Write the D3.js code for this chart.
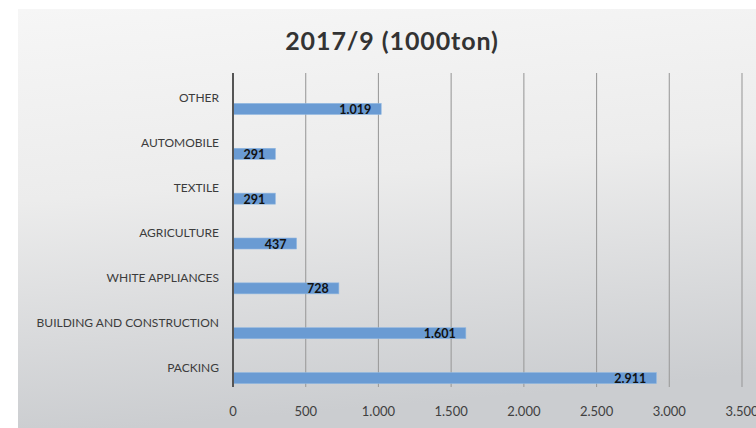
<!DOCTYPE html>
<html><head><meta charset="utf-8">
<script src="https://cdn.jsdelivr.net/npm/d3@7"></script>
<style>html,body{margin:0;padding:0;background:#fff;}svg{display:block;}</style>
</head><body>
<svg id="chart" width="756" height="428"></svg>
<script>
const categories = ["OTHER","AUTOMOBILE","TEXTILE","AGRICULTURE","WHITE APPLIANCES","BUILDING AND CONSTRUCTION","PACKING"];
const values = [1019, 291, 291, 437, 728, 1601, 2911];
const valueLabels = ["1.019","291","291","437","728","1.601","2.911"];
const tickValues = [0,500,1000,1500,2000,2500,3000,3500];
const tickLabels = ["0","500","1.000","1.500","2.000","2.500","3.000","3.500"];
const title = "2017/9 (1000ton)";

const svg = d3.select("#chart");
const defs = svg.append("defs");
const grad = defs.append("linearGradient").attr("id","bg").attr("x1",0).attr("y1",0).attr("x2",0.15).attr("y2",1);
grad.append("stop").attr("offset","0%").attr("stop-color","#f6f6f6");
grad.append("stop").attr("offset","45%").attr("stop-color","#ececec");
grad.append("stop").attr("offset","100%").attr("stop-color","#cbcdd0");
svg.append("rect").attr("x",18).attr("y",9).attr("width",738).attr("height",419).attr("fill","url(#bg)");

const x = d3.scaleLinear().domain([0,3500]).range([233,742]);
const y = d3.scaleBand().domain(categories).range([73,387]);

// gridlines
svg.append("g").selectAll("line").data(tickValues.slice(1)).join("line")
  .attr("x1",d=>x(d)).attr("x2",d=>x(d)).attr("y1",73).attr("y2",387)
  .attr("stroke","#9c9c9c").attr("stroke-width",1.1);

// bars
svg.append("g").selectAll("rect").data(values).join("rect")
  .attr("x",x(0)).attr("y",(d,i)=>y(categories[i])+y.bandwidth()/2+8)
  .attr("width",d=>x(d)-x(0)).attr("height",11)
  .attr("fill","#6a9bd3").attr("stroke","#8fb6e0").attr("stroke-width",0.6);

// axis line
svg.append("line").attr("x1",x(0)).attr("x2",x(0)).attr("y1",73).attr("y2",387)
  .attr("stroke","#555").attr("stroke-width",2);

// value labels
svg.append("g").selectAll("text").data(values).join("text")
  .attr("x",d=>x(d)-10).attr("y",(d,i)=>y(categories[i])+y.bandwidth()/2+18.5)
  .attr("text-anchor","end").attr("font-family","Lato, 'Open Sans', sans-serif")
  .attr("font-weight","bold").attr("font-size",12.5).attr("fill","#111")
  .text((d,i)=>valueLabels[i]);

// category labels
svg.append("g").selectAll("text").data(categories).join("text")
  .attr("x",219).attr("y",d=>y(d)+y.bandwidth()/2+7)
  .attr("text-anchor","end").attr("font-family","Lato, 'Open Sans', sans-serif")
  .attr("font-size",12).attr("fill","#3c3c3c").text(d=>d);

// x tick labels
svg.append("g").selectAll("text").data(tickValues).join("text")
  .attr("x",d=>x(d)).attr("y",416).attr("text-anchor","middle")
  .attr("font-family","Lato, 'Open Sans', sans-serif").attr("font-size",13).attr("fill","#404040")
  .text((d,i)=>tickLabels[i]);

// title
svg.append("text").attr("x",392).attr("y",50).attr("text-anchor","middle")
  .attr("font-family","Lato, 'Open Sans', sans-serif").attr("font-weight","bold")
  .attr("font-size",25).attr("letter-spacing",0.9).attr("fill","#333").text(title);
</script>
</body></html>
